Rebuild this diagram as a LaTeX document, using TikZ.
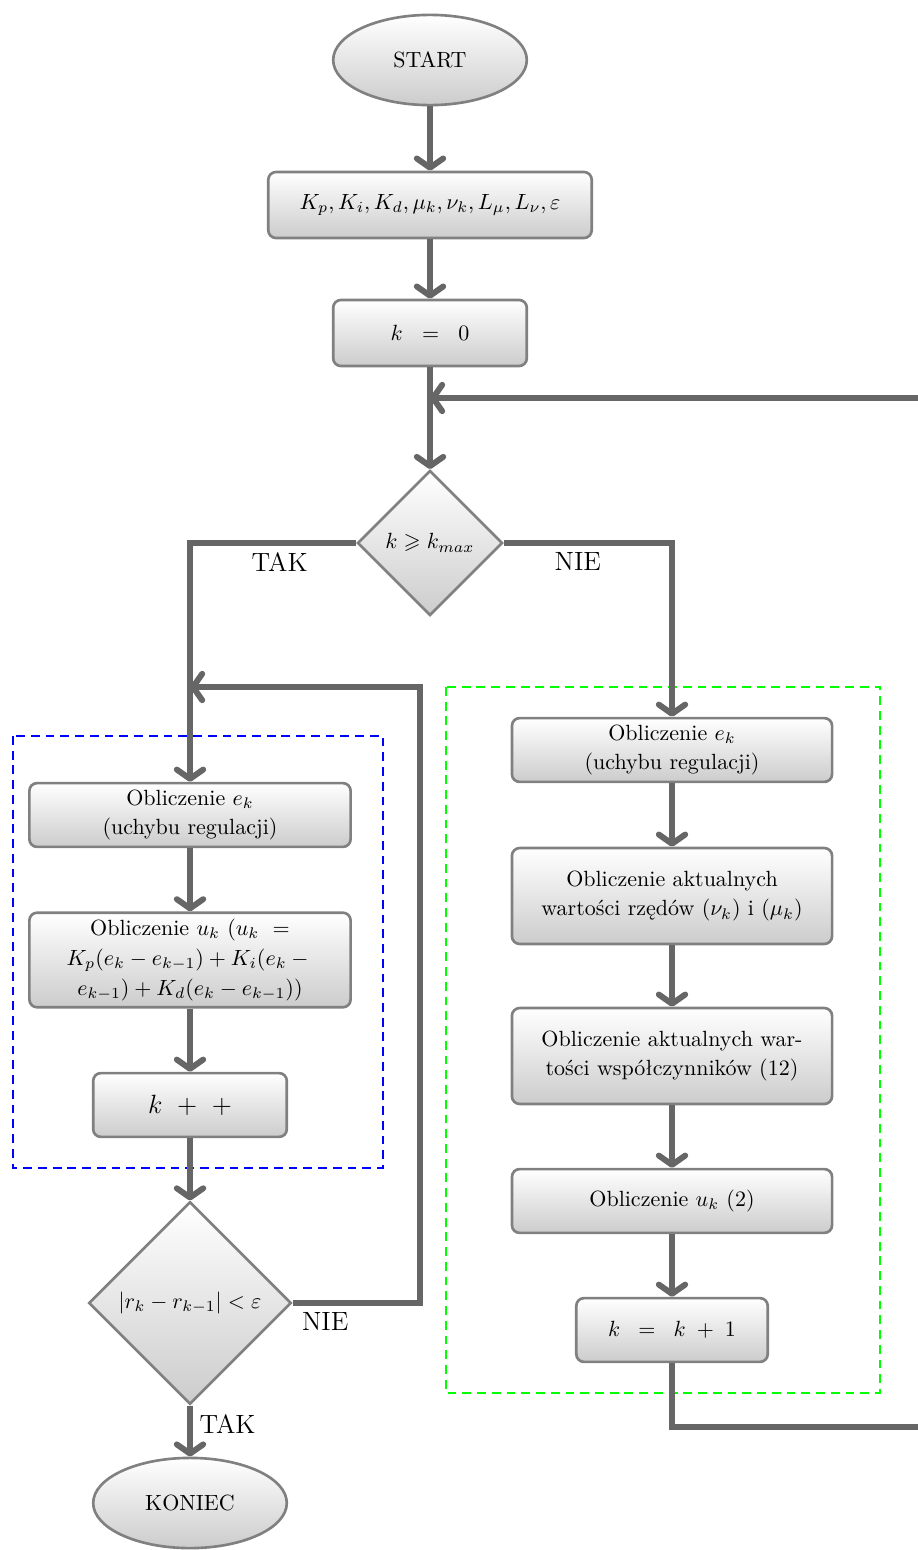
\documentclass[tikz,border=0pt]{standalone}
\usepackage{fontspec}
\usepackage{amsmath,amssymb}
\usetikzlibrary{shapes.geometric,arrows.meta}
\begin{document}
\begin{tikzpicture}[x=0.4545pt,y=-0.4545pt,
  every node/.style={font=\fontsize{10pt}{13.6pt}\selectfont},
  boxbase/.style={draw=black!50, line width=1.2pt, top color=white, bottom color=black!20, align=center},
  proc/.style={boxbase, rectangle, rounded corners=3.5pt, inner sep=2pt},
  term/.style={boxbase, ellipse, inner sep=0pt, minimum width=88pt, minimum height=41pt},
  dec/.style={boxbase, diamond, aspect=1, inner sep=0pt},
  conn/.style={line width=2.7pt, draw=black!60},
  arr/.style={conn, -{Straight Barb[length=4.2pt,width=12pt,round]}},
  lab/.style={font=\large, inner sep=3pt}
]
\useasboundingbox (0,0) rectangle (918,1550);
\clip (0,0) rectangle (918,1550);

% dashed frames
\draw[blue, line width=0.7pt, dash pattern=on 4pt off 2.7pt] (13,736) rectangle (383,1168);
\draw[green, line width=0.7pt, dash pattern=on 4pt off 2.7pt] (446,687) rectangle (880,1393);

% main column
\node[term] (start) at (430,60) {START};
\node[proc, minimum width=147pt, minimum height=30pt] (par) at (430,205) {$K_p,K_i,K_d,\mu_k,\nu_k,L_\mu,L_\nu,\varepsilon$};
\node[proc, minimum width=88pt, minimum height=30pt] (k0) at (430,333) {$k\hspace{6pt}=\hspace{6pt}0$};
\node[dec, minimum size=66pt] (d1) at (430,543) {$k\geqslant k_{max}$};

% left column
\node[proc, minimum width=146pt, minimum height=29pt] (l1) at (190,815) {Obliczenie $e_k$\\(uchybu regulacji)};
\node[proc, minimum width=146pt, minimum height=43pt] (l2) at (190,960) {Obliczenie $u_k$ ($u_k\ =$\\$K_p(e_k-e_{k-1})+K_i(e_k-{}$\\$e_{k-1})+K_d(e_k-e_{k-1}))$};
\node[proc, minimum width=88pt, minimum height=29pt] (l3) at (190,1105) {\large $k\hspace{4pt}+\hspace{4pt}+$};
\node[dec, minimum size=92pt] (d2) at (190,1303) {$\left|r_k-r_{k-1}\right|<\varepsilon$};
\node[term] (end) at (190,1503) {KONIEC};

% right column
\node[proc, minimum width=145.5pt, minimum height=29pt] (r1) at (672,750) {Obliczenie $e_k$\\(uchybu regulacji)};
\node[proc, minimum width=145.5pt, minimum height=43.6pt] (r2) at (672,896) {Obliczenie aktualnych\\wartości rzędów ($\nu_k$) i ($\mu_k$)};
\node[proc, minimum width=145.5pt, minimum height=43.6pt] (r3) at (672,1056) {Obliczenie aktualnych war-\\tości współczynników (12)};
\node[proc, minimum width=145.5pt, minimum height=29pt] (r4) at (672,1201) {Obliczenie $u_k$ (2)};
\node[proc, minimum width=87pt, minimum height=29pt] (r5) at (672,1330) {$k\hspace{5.5pt}=\hspace{5.5pt}k\;+\;1$};

% junction coordinates
\coordinate (j1) at (430,398);
\coordinate (j2) at (190,687);
\coordinate (c2) at (420,687);
\coordinate (rr) at (945,1427);

% connectors
\draw[arr] (start) -- (par);
\draw[arr] (par) -- (k0);
\draw[arr] (k0) -- (d1);
\draw[arr] (d1.west) -| node[lab, pos=0.23, below]{TAK} (l1.north);
\draw[arr] (d1.east) -| node[lab, pos=0.22, below]{NIE} (r1.north);
\draw[arr] (l1) -- (l2);
\draw[arr] (l2) -- (l3);
\draw[arr] (l3) -- (d2);
\draw[arr] (d2) -- node[lab, pos=0.36, right]{TAK} (end);
\draw[arr] (d2.east) -- node[lab, pos=0, below right]{NIE} (d2.east -| c2) -- (c2) -- (j2);
\draw[arr] (r1) -- (r2);
\draw[arr] (r2) -- (r3);
\draw[arr] (r3) -- (r4);
\draw[arr] (r4) -- (r5);
\draw[arr] (r5.south) |- (rr) |- (j1);
\end{tikzpicture}
\end{document}
